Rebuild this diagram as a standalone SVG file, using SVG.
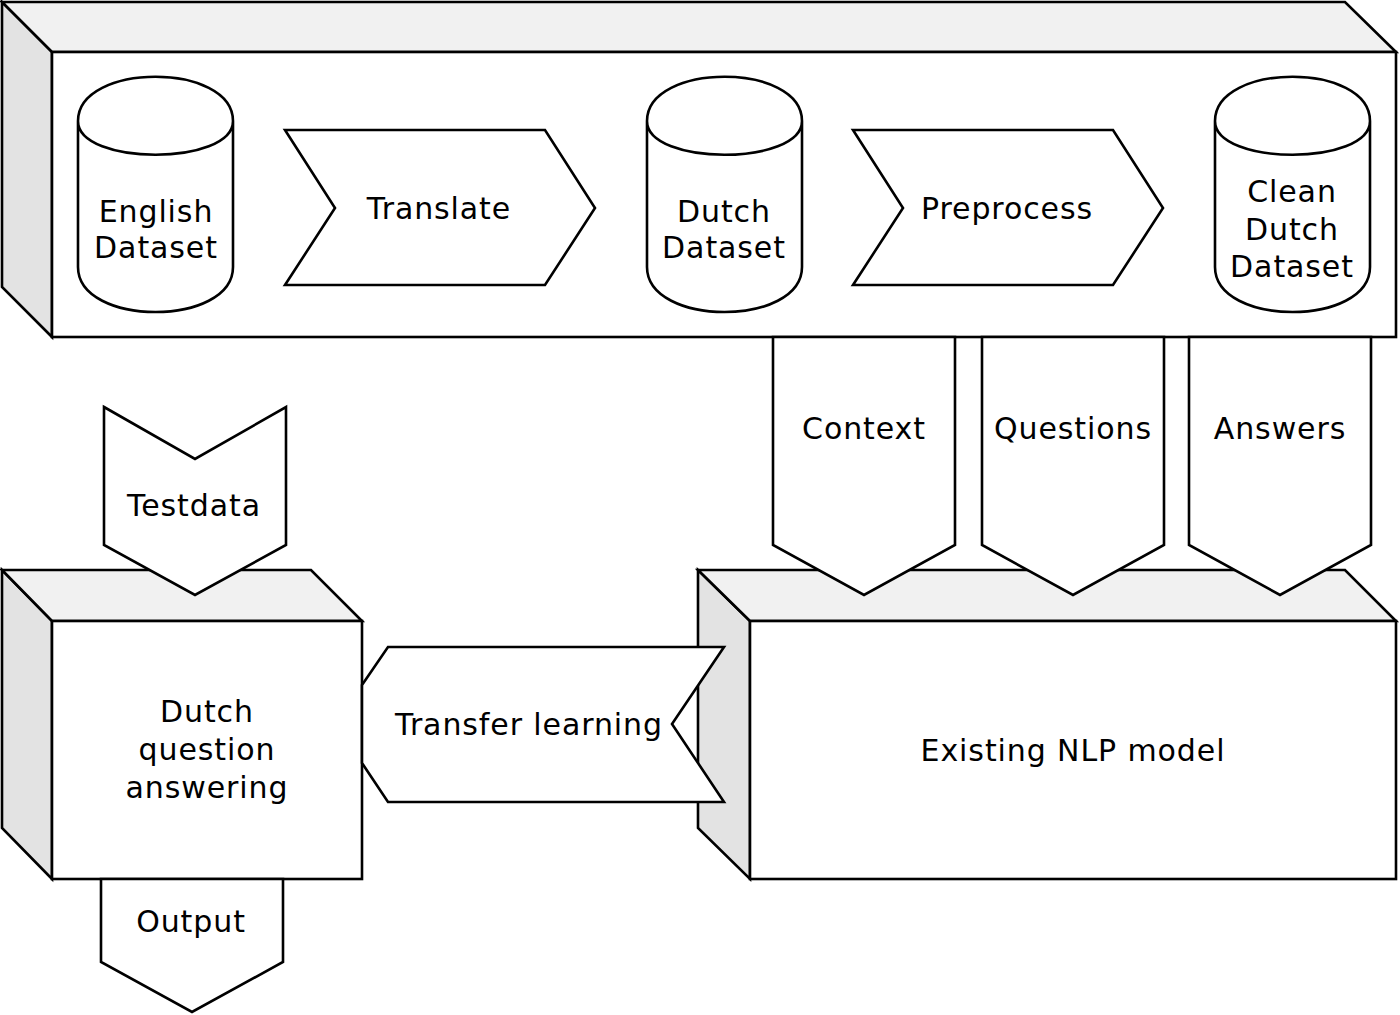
<svg xmlns="http://www.w3.org/2000/svg" width="1400" height="1015" viewBox="0 0 1400 1015">
<style>
.s{stroke:#000;stroke-width:2.6;stroke-linejoin:miter;fill:#fff}
.top{fill:#f1f1f1}
.side{fill:#e3e3e3}
.t{font-family:"DejaVu Sans","Verdana",sans-serif;font-size:30px;letter-spacing:0.9px;text-anchor:middle;fill:#000}
</style>
<rect width="1400" height="1015" fill="#fff"/>
<g id="pipeline">
  <polygon class="s side" points="2,2 52,52 52,337 2,287"/>
  <polygon class="s top" points="2,2 1345,2 1396,52 52,52"/>
  <rect class="s" x="52" y="52" width="1344" height="285"/>
  <g id="english-dataset">
    <path class="s" d="M78,121 C78,62 233,62 233,121 L233,267 C233,327 78,327 78,267 Z M78,121 C78,166 233,166 233,121"/>
    <text class="t" x="156" y="222">English</text>
    <text class="t" x="156" y="258">Dataset</text>
  </g>
  <g id="translate">
    <polygon class="s" points="285,130 545,130 595,208 545,285 285,285 335,208"/>
    <text class="t" x="439" y="219">Translate</text>
  </g>
  <g id="dutch-dataset">
    <path class="s" d="M647,121 C647,62 802,62 802,121 L802,267 C802,327 647,327 647,267 Z M647,121 C647,166 802,166 802,121"/>
    <text class="t" x="724" y="222">Dutch</text>
    <text class="t" x="724" y="258">Dataset</text>
  </g>
  <g id="preprocess">
    <polygon class="s" points="853,130 1113,130 1163,208 1113,285 853,285 903,208"/>
    <text class="t" x="1007" y="219">Preprocess</text>
  </g>
  <g id="clean-dutch-dataset">
    <path class="s" d="M1215,121 C1215,62 1370,62 1370,121 L1370,267 C1370,327 1215,327 1215,267 Z M1215,121 C1215,166 1370,166 1370,121"/>
    <text class="t" x="1292" y="202">Clean</text>
    <text class="t" x="1292" y="240">Dutch</text>
    <text class="t" x="1292" y="277">Dataset</text>
  </g>
</g>
<g id="nlp-model">
  <polygon class="s side" points="698,570 750,621 750,879 698,828"/>
  <polygon class="s top" points="698,570 1345,570 1396,621 750,621"/>
  <rect class="s" x="750" y="621" width="646" height="258"/>
  <text class="t" x="1073" y="761">Existing NLP model</text>
</g>
<g id="dutch-qa">
  <polygon class="s side" points="2,570 52,621 52,879 2,828"/>
  <polygon class="s top" points="2,570 311,570 362,621 52,621"/>
  <rect class="s" x="52" y="621" width="310" height="258"/>
  <text class="t" x="207" y="722">Dutch</text>
  <text class="t" x="207" y="760">question</text>
  <text class="t" x="207" y="798">answering</text>
</g>
<g id="connectors">
  <g id="context">
    <polygon class="s" points="773,337 955,337 955,545 864,595 773,545"/>
    <text class="t" x="864" y="439">Context</text>
  </g>
  <g id="questions">
    <polygon class="s" points="982,337 1164,337 1164,545 1073,595 982,545"/>
    <text class="t" x="1073" y="439">Questions</text>
  </g>
  <g id="answers">
    <polygon class="s" points="1189,337 1371,337 1371,545 1280,595 1189,545"/>
    <text class="t" x="1280" y="439">Answers</text>
  </g>
  <g id="testdata">
    <polygon class="s" points="104,407 195,459 286,407 286,545 195,595 104,545"/>
    <text class="t" x="194" y="516">Testdata</text>
  </g>
  <g id="output">
    <polygon class="s" points="101,879 283,879 283,962 192,1012 101,962"/>
    <text class="t" x="191" y="932">Output</text>
  </g>
  <g id="transfer-learning">
    <polygon class="s" points="362,685 388,647 724,647 672,724 724,802 388,802 362,763"/>
    <text class="t" x="529" y="735">Transfer learning</text>
  </g>
</g>
</svg>
